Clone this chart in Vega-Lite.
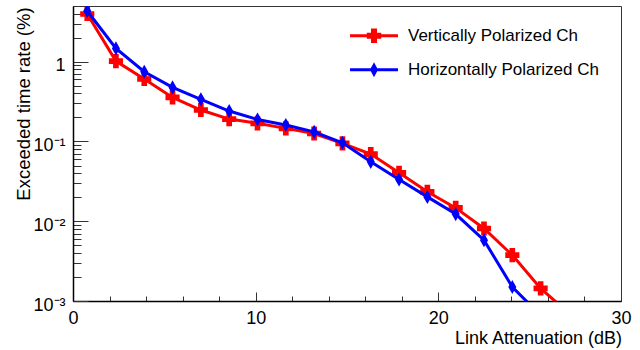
{
  "$schema": "https://vega.github.io/schema/vega-lite/v6.json",
  "autosize": {"type": "none"},
  "width": 548,
  "height": 295,
  "padding": {"left": 73, "top": 6, "right": 19, "bottom": 49},
  "background": "white",
  "config": {
    "view": {"stroke": "#333333", "strokeWidth": 1},
    "font": "Liberation Sans",
    "axis": {
      "grid": false,
      "domainColor": "black",
      "domainWidth": 1.5,
      "tickColor": "#333333",
      "tickWidth": 1,
      "labelColor": "black",
      "labelFont": "Liberation Sans",
      "labelFontSize": 18,
      "labelFlush": false,
      "labelOverlap": false,
      "labelBound": false,
      "titleFont": "Liberation Sans",
      "titleFontWeight": "normal",
      "titleColor": "black"
    }
  },
  "data": {
    "values": [
      {"x": 0.78, "y": 3.97, "series": "Vertically Polarized Ch"},
      {"x": 2.35, "y": 1.02, "series": "Vertically Polarized Ch"},
      {"x": 3.9, "y": 0.607, "series": "Vertically Polarized Ch"},
      {"x": 5.45, "y": 0.357, "series": "Vertically Polarized Ch"},
      {"x": 7.0, "y": 0.248, "series": "Vertically Polarized Ch"},
      {"x": 8.55, "y": 0.191, "series": "Vertically Polarized Ch"},
      {"x": 10.1, "y": 0.169, "series": "Vertically Polarized Ch"},
      {"x": 11.65, "y": 0.146, "series": "Vertically Polarized Ch"},
      {"x": 13.2, "y": 0.126, "series": "Vertically Polarized Ch"},
      {"x": 14.75, "y": 0.0947, "series": "Vertically Polarized Ch"},
      {"x": 16.3, "y": 0.0695, "series": "Vertically Polarized Ch"},
      {"x": 17.85, "y": 0.0405, "series": "Vertically Polarized Ch"},
      {"x": 19.4, "y": 0.0234, "series": "Vertically Polarized Ch"},
      {"x": 20.95, "y": 0.0147, "series": "Vertically Polarized Ch"},
      {"x": 22.5, "y": 0.00812, "series": "Vertically Polarized Ch"},
      {"x": 24.05, "y": 0.00376, "series": "Vertically Polarized Ch"},
      {"x": 25.6, "y": 0.00144, "series": "Vertically Polarized Ch"},
      {"x": 27.15, "y": 0.0007, "series": "Vertically Polarized Ch"},
      {"x": 0.78, "y": 4.33, "series": "Horizontally Polarized Ch"},
      {"x": 2.35, "y": 1.47, "series": "Horizontally Polarized Ch"},
      {"x": 3.9, "y": 0.749, "series": "Horizontally Polarized Ch"},
      {"x": 5.45, "y": 0.477, "series": "Horizontally Polarized Ch"},
      {"x": 7.0, "y": 0.338, "series": "Horizontally Polarized Ch"},
      {"x": 8.55, "y": 0.241, "series": "Horizontally Polarized Ch"},
      {"x": 10.1, "y": 0.189, "series": "Horizontally Polarized Ch"},
      {"x": 11.65, "y": 0.161, "series": "Horizontally Polarized Ch"},
      {"x": 13.2, "y": 0.132, "series": "Horizontally Polarized Ch"},
      {"x": 14.75, "y": 0.0964, "series": "Horizontally Polarized Ch"},
      {"x": 16.3, "y": 0.0556, "series": "Horizontally Polarized Ch"},
      {"x": 17.85, "y": 0.0334, "series": "Horizontally Polarized Ch"},
      {"x": 19.4, "y": 0.0202, "series": "Horizontally Polarized Ch"},
      {"x": 20.95, "y": 0.0123, "series": "Horizontally Polarized Ch"},
      {"x": 22.5, "y": 0.00579, "series": "Horizontally Polarized Ch"},
      {"x": 24.05, "y": 0.0015, "series": "Horizontally Polarized Ch"},
      {"x": 25.6, "y": 0.00066, "series": "Horizontally Polarized Ch"}
    ]
  },
  "encoding": {
    "x": {
      "field": "x",
      "type": "quantitative",
      "scale": {"domain": [0, 30], "nice": false, "zero": false},
      "axis": {
        "title": "Link Attenuation (dB)",
        "titleFontSize": 18,
        "titleAlign": "right",
        "titleBaseline": "alphabetic",
        "titleAngle": 0,
        "titleX": 548.5,
        "titleY": 42.8,
        "values": [0, 2, 4, 6, 8, 10, 12, 14, 16, 18, 20, 22, 24, 26, 28, 30],
        "labelExpr": "datum.value % 10 === 0 ? datum.label : ''",
        "tickSize": {"condition": {"test": "datum.value % 10 === 0", "value": -9}, "value": -5},
        "labelBaseline": "alphabetic",
        "labelPadding": 31.6
      }
    },
    "y": {
      "field": "y",
      "type": "quantitative",
      "scale": {"type": "log", "domain": [0.001, 5], "nice": false, "zero": false},
      "axis": {
        "title": "Exceeded time rate (%)",
        "titleFontSize": 18.5,
        "titleAngle": -90,
        "titleAlign": "center",
        "titleBaseline": "alphabetic",
        "titleX": -44,
        "titleY": 97.5,
        "values": [0.001, 0.002, 0.003, 0.004, 0.005, 0.006, 0.007, 0.008, 0.009, 0.01, 0.02, 0.03, 0.04, 0.05, 0.06, 0.07, 0.08, 0.09, 0.1, 0.2, 0.3, 0.4, 0.5, 0.6, 0.7, 0.8, 0.9, 1, 2, 3, 4, 5],
        "labelExpr": "datum.value == 1 ? '1' : datum.value == 0.1 ? '10⁻¹' : datum.value == 0.01 ? '10⁻²' : datum.value == 0.001 ? '10⁻³' : ''",
        "tickSize": {"condition": {"test": "datum.value == 1 || datum.value == 0.1 || datum.value == 0.01 || datum.value == 0.001", "value": -15}, "value": -8},
        "labelAlign": "right",
        "labelBaseline": "alphabetic",
        "labelOffset": 9,
        "labelPadding": 23
      }
    },
    "color": {
      "field": "series",
      "type": "nominal",
      "scale": {"domain": ["Vertically Polarized Ch", "Horizontally Polarized Ch"], "range": ["#ff0000", "#0000ff"]},
      "legend": {
        "title": null,
        "orient": "none",
        "legendX": 281,
        "legendY": 9.7,
        "padding": 0,
        "symbolSize": 1600,
        "symbolStrokeWidth": 0,
        "rowPadding": 6,
        "labelOffset": 14,
        "labelFont": "Liberation Sans",
        "labelFontSize": 17,
        "labelColor": "black",
        "labelBaseline": "middle",
        "labelLimit": 400,
        "encode": {
          "symbols": {
            "update": {
              "shape": {"signal": "datum.value === 'Vertically Polarized Ch' ? 'M-1.2,-0.075H1.2V0.075H-1.2Z M-0.15,-0.3625H0.15V-0.15H0.3625V0.15H0.15V0.3625H-0.15V0.15H-0.3625V-0.15H-0.15Z' : 'M-1.2,-0.075H1.2V0.075H-1.2Z M0,-0.375L0.2,0L0,0.375L-0.2,0Z'"},
              "fill": {"signal": "datum.value === 'Vertically Polarized Ch' ? '#ff0000' : '#0000ff'"},
              "fillOpacity": {"value": 1},
              "strokeWidth": {"value": 0}
            }
          }
        }
      }
    }
  },
  "layer": [
    {
      "transform": [{"filter": "datum.series === 'Vertically Polarized Ch'"}],
      "mark": {"type": "line", "strokeWidth": 3, "clip": true}
    },
    {
      "transform": [{"filter": "datum.series === 'Vertically Polarized Ch'"}],
      "mark": {"type": "point", "shape": "cross", "size": 200, "filled": true, "opacity": 1, "clip": true}
    },
    {
      "transform": [{"filter": "datum.series === 'Horizontally Polarized Ch'"}],
      "mark": {"type": "line", "strokeWidth": 3, "clip": true}
    },
    {
      "transform": [{"filter": "datum.series === 'Horizontally Polarized Ch'"}],
      "mark": {"type": "point", "shape": "M0,-1L0.57,0L0,1L-0.57,0Z", "size": 200, "filled": true, "opacity": 1, "clip": true}
    }
  ]
}
